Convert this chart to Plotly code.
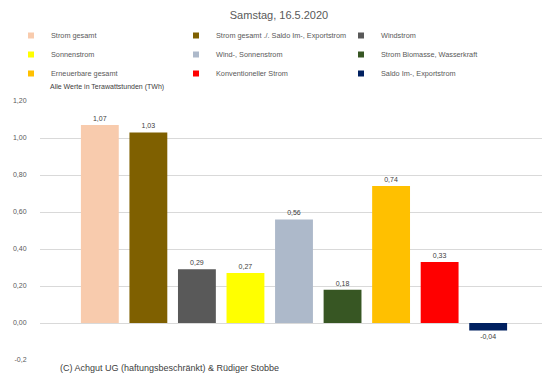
import plotly.graph_objects as go

series = ["Strom gesamt", "Strom gesamt ./. Saldo Im-, Exportstrom", "Windstrom",
          "Sonnenstrom", "Wind-, Sonnenstrom", "Strom Biomasse, Wasserkraft",
          "Erneuerbare gesamt", "Konventioneller Strom", "Saldo Im-, Exportstrom"]
values = [1.07, 1.03, 0.29, 0.27, 0.56, 0.18, 0.74, 0.33, -0.04]
colors = ["#F8CBAD", "#7F6000", "#595959", "#FFFF00", "#ADB9CA", "#375623",
          "#FFC000", "#FF0000", "#002060"]
tick_vals = [-0.2, 0.0, 0.2, 0.4, 0.6, 0.8, 1.0, 1.2]
tick_text = ["-0,2", "0,00", "0,20", "0,40", "0,60", "0,80", "1,00", "1,20"]

# page has an 8px body margin; figure sized to fill the rest of the window
OFF = 8
W, H = 550 - OFF, 384 - OFF
L, R, T, B = 40 - OFF, 2, 101 - OFF, 24
PW, PH = W - L - R, H - T - B


def px(x):  # page pixel -> paper x
    return (x - OFF - L) / PW


def py(y):  # page pixel -> paper y
    return (H - B - (y - OFF)) / PH


FONT = "Liberation Sans"
fig = go.Figure()
for name, v, c in zip(series, values, colors):
    fig.add_trace(go.Bar(
        x=[""], y=[v], name=name, marker=dict(color=c, line=dict(width=0)),
        texttemplate="%{y:.2f}", textposition="outside", cliponaxis=False,
        textfont=dict(size=7, color="#404040", family=FONT),
        legendgroup=name, showlegend=False,
    ))
# legend entries with small square keys
for name, c in zip(series, colors):
    fig.add_trace(go.Scatter(
        x=[None], y=[None], mode="markers", name=name, legendgroup=name,
        marker=dict(symbol="square", size=6, color=c), hoverinfo="skip",
    ))

fig.update_layout(
    width=W, height=H,
    separators=",.",
    barmode="group", bargap=0.14, bargroupgap=0.22,
    paper_bgcolor="white", plot_bgcolor="white",
    margin=dict(l=L, r=R, t=T, b=B, autoexpand=False),
    font=dict(family=FONT, size=7, color="#595959"),
    title=dict(text="Samstag, 16.5.2020", x=0.5, xanchor="center",
               y=1 - (15 - OFF) / H, yref="container", yanchor="middle",
               font=dict(size=11, color="#595959", family=FONT)),
    showlegend=True,
    legend=dict(orientation="h", x=px(11), xanchor="left", y=py(21), yref="paper",
                yanchor="top", entrywidth=120, itemwidth=30, traceorder="normal",
                font=dict(size=7.3, color="#595959", family=FONT),
                tracegroupgap=0, bgcolor="rgba(0,0,0,0)"),
    xaxis=dict(showticklabels=False, showgrid=False, zeroline=False, showline=False),
    yaxis=dict(range=[-0.2, 1.2], tickvals=tick_vals, ticktext=tick_text,
               showgrid=True, gridcolor="#D9D9D9", gridwidth=1,
               zeroline=True, zerolinecolor="#D9D9D9", zerolinewidth=1,
               showline=False, ticks="outside", ticklen=11, tickcolor="rgba(0,0,0,0)",
               tickfont=dict(size=7, color="#595959")),
)
fig.add_shape(type="rect", xref="paper", yref="paper", x0=-0.01, x1=px(305),
              y0=-0.02, y1=0.02, fillcolor="white", line=dict(width=0), layer="above")
fig.add_annotation(text="Alle Werte in Terawattstunden (TWh)", xref="paper", yref="paper",
                   x=px(48), y=py(87), yanchor="middle", xanchor="left", showarrow=False,
                   font=dict(size=7, color="#404040", family=FONT))
fig.add_annotation(text="(C) Achgut UG (haftungsbeschränkt) & Rüdiger Stobbe", xref="paper",
                   yref="paper", x=px(58), y=py(368), xanchor="left", yanchor="middle",
                   showarrow=False, font=dict(size=9, color="#404040", family=FONT))
fig.write_html("out.html")
